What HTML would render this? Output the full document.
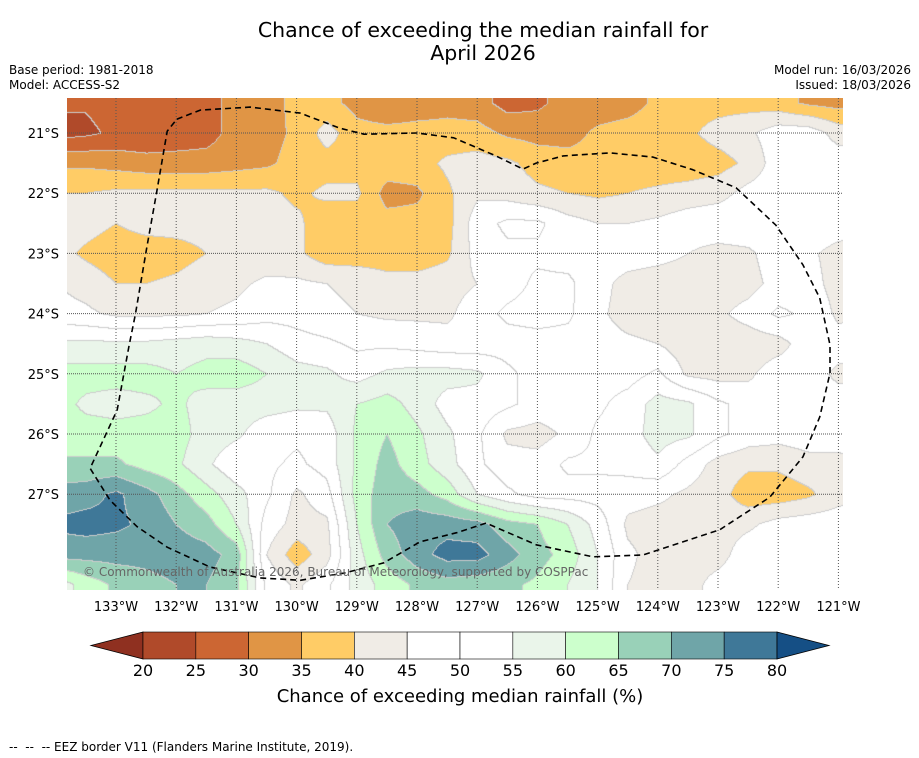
<!DOCTYPE html>
<html><head><meta charset="utf-8">
<style>
body{margin:0;background:#fff;font-family:"DejaVu Sans","Liberation Sans",sans-serif;}
#root{position:relative;width:919px;height:758px;overflow:hidden;background:#fff;}
.t{position:absolute;white-space:nowrap;color:#000;}
canvas{position:absolute;left:67px;top:98px;}
svg{position:absolute;left:0;top:0;}
</style></head>
<body>
<div id="root">
<div class="t" style="left:0;width:966px;text-align:center;top:19px;font-size:20.5px;line-height:23px;">Chance of exceeding the median rainfall for<br>April 2026</div>
<div class="t" style="left:9px;top:63px;font-size:12px;">Base period: 1981-2018</div>
<div class="t" style="left:9px;top:78px;font-size:12px;">Model: ACCESS-S2</div>
<div class="t" style="right:8px;top:63px;font-size:12px;">Model run: 16/03/2026</div>
<div class="t" style="right:8px;top:78px;font-size:12px;">Issued: 18/03/2026</div>
<canvas id="map" width="776" height="492"></canvas>
<svg id="ov" width="919" height="758"></svg>
<div class="t" style="left:83px;top:565px;font-size:12px;color:#666;">© Commonwealth of Australia 2026, Bureau of Meteorology, supported by COSPPac</div>
<div class="t" style="left:0;width:920px;text-align:center;top:686px;font-size:18px;">Chance of exceeding median rainfall (%)</div>
<div class="t" style="left:9px;top:740px;font-size:12px;">--&nbsp; --&nbsp; -- EEZ border V11 (Flanders Marine Institute, 2019).</div>
</div>
<script>
// Grid data: rows from 20.0S to 29.0S step 0.5, columns from 134.0W to 120.5W step 0.5
const gridRows = [
[27,27,27,27,27,28,32,32,37,37,33,30,32,33,32,28,29,32,32,33,36,38,38,38,37,34,33,33],
[26,25.5,27,27,27,28,32,32,37,37,33,30,32,33,32,28,29,32,32,33,36,38,38,38,37,34,33,33],
[23,24,26,26,27,28,32,33,36,42,37,37,37,37,37,34,33,33,36,37,38,39,42,44,48,48,43,42],
[34,34,33,32,32,32,33,34,37,38,38,38,38,41,42,41,38,37,37,37,37,37,38,41,48,48,48,48],
[40,40,41,41,41,41,41,41,39,41,41,33,34,39,44,43,41,40,39,40,41,42,43,47,48,49,48,48],
[43,42,40,42,42,42,42,42,41,37,37,37,37,38,48,51,51,47,45,45,46,48,49,49,49,49,48,47],
[42,39,37,37,38,40,42,42,41,37,37,37,37,39,47,49,49,48,48,48,47,45,43,44,48,46,43,42],
[45,43,40,40,41,43,44,46,46,45,44,42,42,43,45,48,51,51,47,43,42,42,42,43,47,47,43,42],
[47,46,44,44,44,45,46,48,48,46,45,44,44,44,48,51,52,51,46,43,42,42,44,47,51,49,44,45],
[56,56,56,56,57,58,57,55,52,51,49,49,48,47,47,48,48,48,47,46,45,42,42,42,43,48,47,47],
[62,62,62,62,60,62,63,60,57,56,53,56,57,57,56,51,48,48,48,48,51,44,43,44,48,47,44,44],
[62,59,58,59,61,58,57,57,56,56,60,62,58,53,53,51,48,48,49,52,57,56,51,48,47,48,47,47],
[62,62,62,62,62,58,56,52,51,52,61,65,61,56,51,44,43,46,51,53,57,56,51,48,47,48,48,48],
[66,66,66,63,61,56,51,51,49,52,61,67,62,57,51,47,47,51,51,52,54,48,43,41,41,43,43,46],
[72,73,76,72,67,62,57,51,44,48,62,68,67,63,55,51,48,48,48,47,46,44,42,37,37,39,43,44],
[76,77,76,74,70,67,60,48,43,44,60,70,73,73,72,67,65,60,53,44,43,43,43,44,47,48,48,48],
[72,72,72,72,73,72,68,45,37,43,58,67,73,77,77,72,67,63,55,46,43,43,43,48,49,49,49,49],
[57,62,66,68,70,70,66,49,44,49,57,62,66,68,67,66,64,60,55,45,43,43,47,49,49,49,49,49],
[57,62,66,68,70,70,66,49,44,49,57,62,66,68,67,66,64,60,55,45,43,43,47,49,49,49,49,49]
];
const lonStart = 134.0, latStart = 20.0, step = 0.5;
const levels = [20,25,30,35,40,45,50,55,60,65,70,75,80];
const binColors = ['#8f3020','#b04a2a','#cc6633','#e09545','#ffcc66','#f0ece6','#ffffff','#ffffff','#eaf5ea','#ccffcc','#99d1b8','#6fa5a8','#3f7898','#154f85'];
const lonTicks = [133,132,131,130,129,128,127,126,125,124,123,122,121];
const latTicks = [21,22,23,24,25,26,27];
const eezLon = [131.99,131.60,130.77,129.94,129.28,128.88,128.00,127.39,126.69,126.24,126.02,125.57,124.79,124.08,123.42,122.70,122.04,121.59,121.31,121.14,121.14,121.31,121.59,122.14,122.97,124.25,125.08,126.02,126.85,127.34,127.95,128.55,129.21,129.94,130.61,131.44,132.15,132.65,133.10,133.43,132.98,132.78,132.68,132.49,132.32,132.15,131.99];
const eezLat = [20.77,20.62,20.57,20.67,20.92,21.02,21.00,21.08,21.38,21.60,21.50,21.38,21.33,21.40,21.61,21.91,22.53,23.19,23.74,24.52,24.99,25.72,26.38,27.05,27.59,28.01,28.04,27.84,27.48,27.64,27.79,28.14,28.31,28.43,28.39,28.21,27.88,27.54,27.10,26.57,25.60,24.52,24.02,22.91,21.96,20.97,20.77];

const X = lon => 116 + (133 - lon) * 60.2;
const Y = lat => 133 + (lat - 21) * 60.2;
function valueAt(lon, lat){
  let gx = (lonStart - lon) / step, gy = (lat - latStart) / step;
  const nc = gridRows[0].length, nr = gridRows.length;
  gx = Math.max(0, Math.min(nc - 1.001, gx)); gy = Math.max(0, Math.min(nr - 1.001, gy));
  const i = Math.floor(gx), j = Math.floor(gy), fx = gx - i, fy = gy - j;
  const a = gridRows[j][i], b = gridRows[j][i+1], c = gridRows[j+1][i], d = gridRows[j+1][i+1];
  return a*(1-fx)*(1-fy) + b*fx*(1-fy) + c*(1-fx)*fy + d*fx*fy;
}
function binOf(v){ let k = 0; while (k < levels.length && v >= levels[k] - 1e-6) k++; return k; }
function hex(h){ return [parseInt(h.substr(1,2),16),parseInt(h.substr(3,2),16),parseInt(h.substr(5,2),16)]; }
const rgb = binColors.map(hex);
(function(){
  const cv = document.getElementById('map'), ctx = cv.getContext('2d');
  const W = cv.width, H = cv.height, img = ctx.createImageData(W, H);
  const bins = new Int8Array(W * H);
  for (let y = 0; y < H; y++) for (let x = 0; x < W; x++) {
    const px = x + 67, py = y + 98;
    const lon = 133 - (px - 116) / 60.2, lat = 21 + (py - 133) / 60.2;
    bins[y*W + x] = binOf(valueAt(lon, lat));
  }
  for (let y = 0; y < H; y++) for (let x = 0; x < W; x++) {
    const b = bins[y*W + x];
    let c = rgb[b];
    const r = x < W-1 ? bins[y*W + x + 1] : b, d = y < H-1 ? bins[(y+1)*W + x] : b;
    if (r !== b || d !== b) c = [205,205,205];
    const o = (y*W + x) * 4;
    img.data[o] = c[0]; img.data[o+1] = c[1]; img.data[o+2] = c[2]; img.data[o+3] = 255;
  }
  ctx.putImageData(img, 0, 0);
})();
(function(){
  const NS = 'http://www.w3.org/2000/svg', svg = document.getElementById('ov');
  function mk(tag, attrs){ const e = document.createElementNS(NS, tag); for (const k in attrs) e.setAttribute(k, attrs[k]); svg.appendChild(e); return e; }
  const FF = 'DejaVu Sans, Liberation Sans, sans-serif';
  lonTicks.forEach(lon => {
    const x = X(lon);
    const l = mk('line', {x1:x, x2:x, y1:98, y2:590, stroke:'#555', 'stroke-width':1, 'stroke-dasharray':'1,2'});
    
    
    const t = mk('text', {x:x, y:611, 'text-anchor':'middle', 'font-size':13, 'font-family':FF});
    t.textContent = lon + '°W';
    
    
  });
  latTicks.forEach(lat => {
    const y = Y(lat);
    const l = mk('line', {x1:67, x2:843, y1:y, y2:y, stroke:'#555', 'stroke-width':1, 'stroke-dasharray':'1,1'});
    
    
    const t = mk('text', {x:59, y:y+5, 'text-anchor':'end', 'font-size':13, 'font-family':FF});
    t.textContent = lat + '°S';
    
    
  });
  let d = '';
  eezLon.forEach((lon, i) => { d += (i ? 'L' : 'M') + X(lon).toFixed(1) + ',' + Y(eezLat[i]).toFixed(1); });
  const p = mk('path', {d:d, fill:'none', stroke:'#000', 'stroke-width':1.6, 'stroke-dasharray':'6,4', 'stroke-linejoin':'round'});
  
  
  const x0 = 143, seg = (777 - 143) / 12, y0 = 632, h = 27;
  const under = mk('polygon', {points:`${x0},${y0} ${x0},${y0+h} 91,${y0+h/2}`, fill:binColors[0], stroke:'#000', 'stroke-width':0.8});
  
  
  for (let k = 0; k < 12; k++) {
    const r = mk('rect', {x:x0 + k*seg, y:y0, width:seg, height:h, fill:binColors[k+1], stroke:'#000', 'stroke-width':0.6});
    
    
  }
  const over = mk('polygon', {points:`777,${y0} 777,${y0+h} 829,${y0+h/2}`, fill:binColors[13], stroke:'#000', 'stroke-width':0.8});
  
  
  levels.forEach((v, k) => {
    const t = mk('text', {x:x0 + k*seg, y:676, 'text-anchor':'middle', 'font-size':16, 'font-family':FF});
    t.textContent = v;
    
    
  });
})();
</script>
</body></html>
